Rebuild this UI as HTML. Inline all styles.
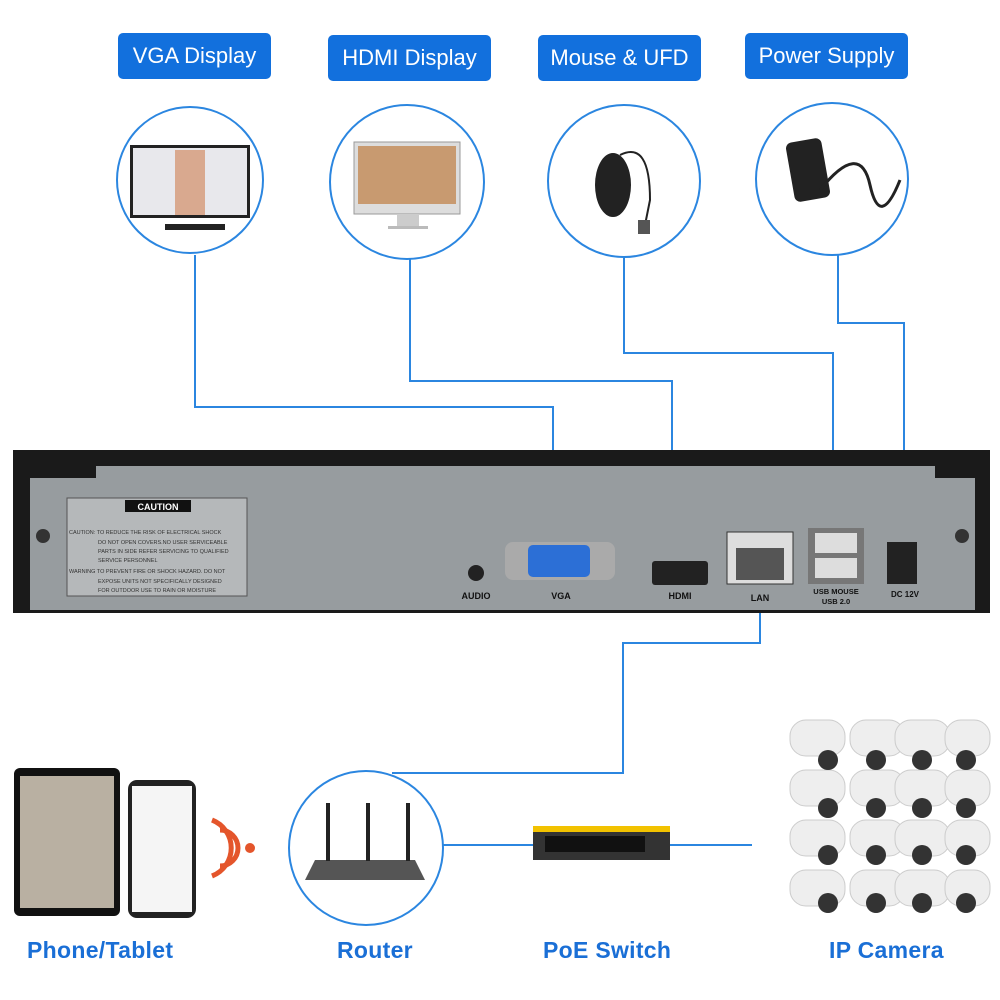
<!DOCTYPE html>
<html><head><style>
body{margin:0;width:1000px;height:1000px;background:#fff;position:relative;overflow:hidden;font-family:"Liberation Sans",sans-serif}
.lb{position:absolute;background:#1270dd;color:#fff;border-radius:5px;font-size:22px;text-align:center;line-height:46px;height:46px}
.bt{position:absolute;color:#1a6fd6;font-size:23px;top:937px;font-weight:bold;letter-spacing:.3px}
</style></head><body>
<div class="lb" style="left:118px;top:33px;width:153px">VGA Display</div>
<div class="lb" style="left:328px;top:35px;width:163px">HDMI Display</div>
<div class="lb" style="left:538px;top:35px;width:163px">Mouse &amp; UFD</div>
<div class="lb" style="left:745px;top:33px;width:163px">Power Supply</div>

<svg width="1000" height="1000" style="position:absolute;left:0;top:0">
<g fill="none" stroke="#2b86e0" stroke-width="2">
<polyline points="195,255 195,407 553,407 553,452"/>
<polyline points="410,258 410,381 672,381 672,452"/>
<polyline points="624,258 624,353 833,353 833,455"/>
<polyline points="838,255 838,323 904,323 904,452"/>
<polyline points="760,613 760,643 623,643 623,773 392,773"/>
<line x1="443" y1="845" x2="533" y2="845"/>
<line x1="670" y1="845" x2="752" y2="845"/>
<circle cx="190" cy="180" r="73" fill="#fff"/>
<circle cx="407" cy="182" r="77" fill="#fff"/>
<circle cx="624" cy="181" r="76" fill="#fff"/>
<circle cx="832" cy="179" r="76" fill="#fff"/>
<circle cx="366" cy="848" r="77" fill="#fff"/>
</g>
<rect x="130" y="145" width="120" height="73" fill="#222"/><rect x="133" y="148" width="114" height="67" fill="#e8e8ec"/>
<rect x="175" y="150" width="30" height="65" fill="#d9a98f"/><rect x="165" y="224" width="60" height="6" fill="#222"/>
<rect x="354" y="142" width="106" height="72" fill="#ddd" stroke="#999"/><rect x="358" y="146" width="98" height="58" fill="#c89a70"/>
<rect x="397" y="214" width="22" height="12" fill="#ccc"/><rect x="388" y="226" width="40" height="3" fill="#bbb"/>
<ellipse cx="613" cy="185" rx="18" ry="32" fill="#222"/><path d="M620 155 Q650 140 650 200 L645 225" stroke="#222" stroke-width="2" fill="none"/><rect x="638" y="220" width="12" height="14" fill="#555"/>
<rect x="790" y="140" width="36" height="60" rx="6" fill="#222" transform="rotate(-10 808 170)"/><path d="M820 190 Q860 140 870 185 Q880 230 900 180" stroke="#222" stroke-width="3" fill="none"/>
<rect x="13" y="450" width="977" height="163" fill="#1a1a1a"/>
<rect x="30" y="466" width="945" height="144" fill="#979c9f"/>
<rect x="30" y="466" width="66" height="12" fill="#1a1a1a"/><rect x="935" y="466" width="40" height="12" fill="#1a1a1a"/>
<circle cx="43" cy="536" r="7" fill="#333"/><circle cx="962" cy="536" r="7" fill="#333"/>
<rect x="67" y="498" width="180" height="98" fill="#b5b8ba" stroke="#555"/>
<rect x="125" y="500" width="66" height="12" fill="#111"/>
<text x="158" y="510" font-size="9" fill="#fff" text-anchor="middle" font-weight="bold">CAUTION</text>
<g font-size="5.5" fill="#333"><text x="69" y="534">CAUTION: TO REDUCE THE RISK OF ELECTRICAL SHOCK</text><text x="98" y="544">DO NOT OPEN COVERS.NO USER SERVICEABLE</text><text x="98" y="553">PARTS IN SIDE REFER SERVICING TO QUALIFIED</text><text x="98" y="562">SERVICE PERSONNEL</text><text x="69" y="573">WARNING TO PREVENT FIRE OR SHOCK HAZARD. DO NOT</text><text x="98" y="583">EXPOSE UNITS NOT SPECIFICALLY DESIGNED</text><text x="98" y="592">FOR OUTDOOR USE TO RAIN OR MOISTURE</text></g>
<circle cx="476" cy="573" r="8" fill="#222"/>
<rect x="505" y="542" width="110" height="38" rx="8" fill="#aaa"/><rect x="528" y="545" width="62" height="32" rx="5" fill="#2c6fd6"/>
<rect x="652" y="561" width="56" height="24" rx="3" fill="#222"/>
<rect x="727" y="532" width="66" height="52" fill="#ddd" stroke="#333"/><rect x="736" y="548" width="48" height="32" fill="#555"/>
<rect x="808" y="528" width="56" height="56" fill="#777"/><rect x="815" y="533" width="42" height="20" fill="#ddd"/><rect x="815" y="558" width="42" height="20" fill="#ddd"/>
<rect x="887" y="542" width="30" height="42" fill="#222"/>
<g font-size="9" font-weight="bold" fill="#111" text-anchor="middle"><text x="476" y="599">AUDIO</text><text x="561" y="599">VGA</text><text x="680" y="599">HDMI</text><text x="760" y="601">LAN</text><text x="836" y="594" font-size="7.5">USB MOUSE</text><text x="836" y="604" font-size="7.5">USB 2.0</text><text x="905" y="597" font-size="8">DC 12V</text></g>
<rect x="14" y="768" width="106" height="148" rx="6" fill="#111"/><rect x="20" y="776" width="94" height="132" fill="#b9b0a2"/>
<rect x="128" y="780" width="68" height="138" rx="9" fill="#222"/><rect x="132" y="786" width="60" height="126" fill="#f5f5f5"/>
<g fill="none" stroke="#e4552b" stroke-width="5"><path d="M220 830 a18 18 0 0 1 0 36"/><path d="M212 820 a30 30 0 0 1 0 56"/></g><circle cx="250" cy="848" r="5" fill="#e4552b"/>
<polygon points="305,880 425,880 415,860 315,860" fill="#555"/>
<rect x="326" y="803" width="4" height="58" fill="#222"/><rect x="366" y="803" width="4" height="58" fill="#222"/><rect x="406" y="803" width="4" height="58" fill="#222"/>
<rect x="533" y="826" width="137" height="34" fill="#333"/><rect x="533" y="826" width="137" height="6" fill="#f2c200"/>
<rect x="545" y="836" width="100" height="16" fill="#111"/>
<g fill="#eee" stroke="#ccc">
<g id="r"><rect x="790" y="720" width="55" height="36" rx="16"/><rect x="850" y="720" width="55" height="36" rx="16"/><rect x="895" y="720" width="55" height="36" rx="16"/><rect x="945" y="720" width="45" height="36" rx="16"/></g>
<use href="#r" y="50"/><use href="#r" y="100"/><use href="#r" y="150"/>
</g>
<g fill="#333"><g id="k"><circle cx="828" cy="760" r="10"/><circle cx="876" cy="760" r="10"/><circle cx="922" cy="760" r="10"/><circle cx="966" cy="760" r="10"/></g><use href="#k" y="48"/><use href="#k" y="95"/><use href="#k" y="143"/></g>
</svg>
<div class="bt" style="left:27px">Phone/Tablet</div>
<div class="bt" style="left:337px">Router</div>
<div class="bt" style="left:543px">PoE Switch</div>
<div class="bt" style="left:829px">IP Camera</div>
</body></html>
